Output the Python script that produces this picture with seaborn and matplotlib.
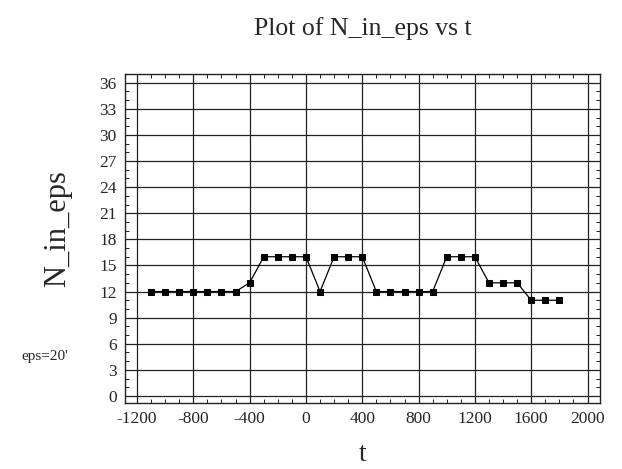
import matplotlib
matplotlib.use("Agg")
import matplotlib.pyplot as plt
from matplotlib.ticker import MultipleLocator
import seaborn as sns
import pandas as pd

# time samples and counts inside the eps window
t = [-1100, -1000, -900, -800, -700, -600, -500, -400, -300, -200,
     -100, 0, 100, 200, 300, 400, 500, 600, 700, 800,
     900, 1000, 1100, 1200, 1300, 1400, 1500, 1600, 1700, 1800]
n_in_eps = [12, 12, 12, 12, 12, 12, 12, 13, 16, 16,
            16, 16, 12, 16, 16, 16, 12, 12, 12, 12,
            12, 16, 16, 16, 13, 13, 13, 11, 11, 11]

df = pd.DataFrame({"t": t, "N_in_eps": n_in_eps})

sns.set_style("ticks")
plt.rcParams["font.family"] = ["Liberation Serif", "DejaVu Serif"]
plt.rcParams["axes.unicode_minus"] = False

fig = plt.figure(figsize=(6.22, 4.69), dpi=100)
ax = fig.add_axes([0.201, 0.141, 0.764, 0.701])

sns.lineplot(data=df, x="t", y="N_in_eps", ax=ax, color="black",
             linewidth=0.9, marker="s", markersize=4.2,
             markerfacecolor="black", markeredgecolor="black")

ax.set_xlim(-1285, 2090)
ax.set_ylim(-0.8, 37.0)
ax.xaxis.set_major_locator(MultipleLocator(400))
ax.xaxis.set_minor_locator(MultipleLocator(100))
ax.yaxis.set_major_locator(MultipleLocator(3))
ax.yaxis.set_minor_locator(MultipleLocator(1))

ax.grid(which="major", color="#222222", linewidth=0.9)
ax.tick_params(which="both", direction="in", top=True, right=True,
               color="#222222")
ax.tick_params(which="major", length=0, labelsize=12.5, pad=6)
ax.tick_params(which="minor", length=3, width=0.7)
for s in ax.spines.values():
    s.set_color("#222222")
    s.set_linewidth(1.0)

ax.set_xlabel("t", fontsize=20, labelpad=11)
ax.set_ylabel("N_in_eps", fontsize=22)
ax.yaxis.set_label_coords(-0.112, 0.53)
ax.set_title("Plot of N_in_eps vs t", fontsize=18.5, pad=28)
fig.text(0.035, 0.232, "eps=20'", fontsize=11)

fig.savefig("out.png", dpi=100, facecolor="white")
